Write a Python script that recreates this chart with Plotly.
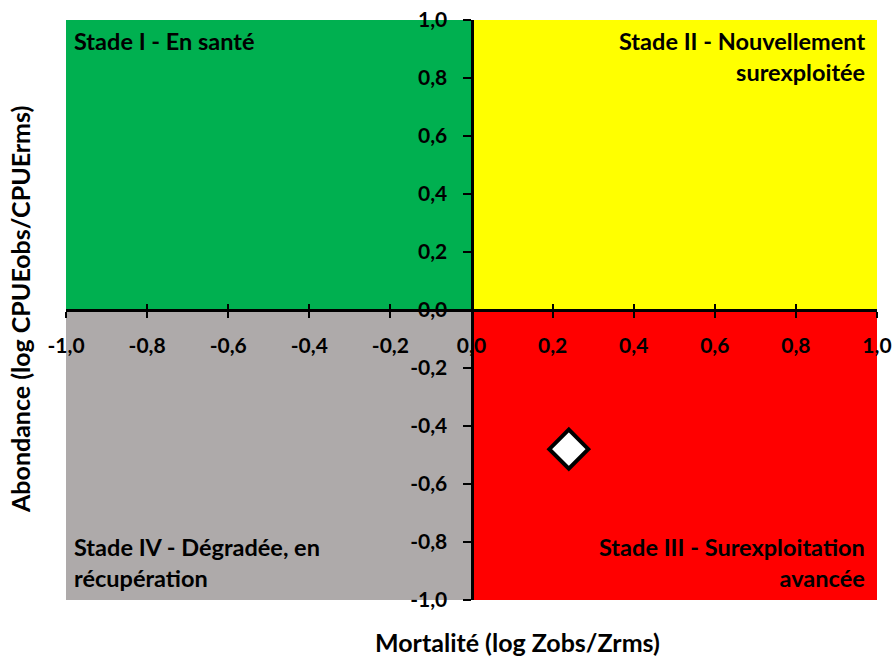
import plotly.graph_objects as go

# Data
stock_x = [0.24]   # Mortalité (log Zobs/Zrms)
stock_y = [-0.48]  # Abondance (log CPUEobs/CPUErms)

tick_vals = [-1.0, -0.8, -0.6, -0.4, -0.2, 0.0, 0.2, 0.4, 0.6, 0.8, 1.0]
tick_text = ["-1,0", "-0,8", "-0,6", "-0,4", "-0,2", "0,0", "0,2", "0,4", "0,6", "0,8", "1,0"]

quadrants = [
    # (x0, x1, y0, y1, colour)
    (-1, 0, 0, 1, "#00B050"),
    (0, 1, 0, 1, "#FFFF00"),
    (0, 1, -1, 0, "#FF0000"),
    (-1, 0, -1, 0, "#AEAAAA"),
]

FONT = "Lato"

fig = go.Figure()

for x0, x1, y0, y1, c in quadrants:
    fig.add_shape(type="rect", xref="x", yref="y", x0=x0, x1=x1, y0=y0, y1=y1,
                  fillcolor=c, line=dict(width=0), layer="below")

fig.add_trace(go.Scatter(
    x=stock_x, y=stock_y, mode="markers",
    marker=dict(symbol="diamond", size=30, color="white",
                line=dict(color="black", width=4)),
    showlegend=False, cliponaxis=False,
))

# invisible overlay trace for the inside halves of cross ticks
fig.add_trace(go.Scatter(x=[None], y=[None], xaxis="x2", yaxis="y", showlegend=False))

axis_font = dict(family=FONT, size=21, color="black", weight="bold")
text_font = dict(family=FONT, size=23.5, color="black", weight="bold")
title_font = dict(family=FONT, size=25, color="black", weight="bold")

fig.update_layout(
    width=896, height=658,
    margin=dict(l=66, r=19, t=20, b=58, autoexpand=False),
    paper_bgcolor="white", plot_bgcolor="white",
    font=dict(family=FONT, color="black"),
    xaxis=dict(
        range=[-1, 1], tickvals=tick_vals, ticktext=tick_text,
        showgrid=False, zeroline=False, automargin=False,
        showline=True, linecolor="black", linewidth=3,
        ticks="outside", ticklen=6, tickwidth=2, tickcolor="black",
        anchor="free", position=0.5, ticklabeloverflow="allow",
        tickfont=axis_font, ticklabelstandoff=10,
    ),
    xaxis2=dict(
        range=[-1, 1], tickvals=tick_vals, overlaying="x",
        showgrid=False, zeroline=False, showticklabels=False, automargin=False,
        ticks="inside", ticklen=6, tickwidth=2, tickcolor="black",
        anchor="free", position=0.5, showline=False,
    ),
    yaxis=dict(
        range=[-1, 1], tickvals=tick_vals, ticktext=tick_text,
        showgrid=False, zeroline=False, automargin=False,
        showline=True, linecolor="black", linewidth=3,
        ticks="outside", ticklen=8, tickwidth=2, tickcolor="black",
        anchor="free", position=0.5, ticklabeloverflow="allow",
        tickfont=axis_font, ticklabelstandoff=11,
    ),
    annotations=[
        dict(text="<b>Mortalité (log Zobs/Zrms)</b>", xref="paper", yref="paper",
             x=0.557, y=0, yshift=-25, xanchor="center", yanchor="top",
             showarrow=False, font=title_font),
        dict(text="<b>Abondance (log CPUEobs/CPUErms)</b>", xref="paper", yref="paper",
             x=0, xshift=-29, y=0.5, xanchor="right", yanchor="middle", textangle=-90,
             showarrow=False, font=title_font),
        dict(text="<b>Stade I - En santé</b>", xref="paper", yref="paper",
             x=0, y=1, xshift=6, yshift=-5, xanchor="left", yanchor="top", align="left",
             showarrow=False, font=text_font),
        dict(text="<b>Stade II - Nouvellement<br>surexploitée</b>", xref="paper", yref="paper",
             x=1, y=1, xshift=-10, yshift=-5, xanchor="right", yanchor="top", align="right",
             showarrow=False, font=text_font),
        dict(text="<b>Stade III - Surexploitation<br>avancée</b>", xref="paper", yref="paper",
             x=1, y=0, xshift=-10, yshift=6, xanchor="right", yanchor="bottom", align="right",
             showarrow=False, font=text_font),
        dict(text="<b>Stade IV - Dégradée, en<br>récupération</b>", xref="paper", yref="paper",
             x=0, y=0, xshift=6, yshift=6, xanchor="left", yanchor="bottom", align="left",
             showarrow=False, font=text_font),
    ],
)

fig.write_html(
    "out.html",
    config={"displayModeBar": False},
    post_script="document.body.style.margin='0';document.body.style.overflow='hidden';",
)
